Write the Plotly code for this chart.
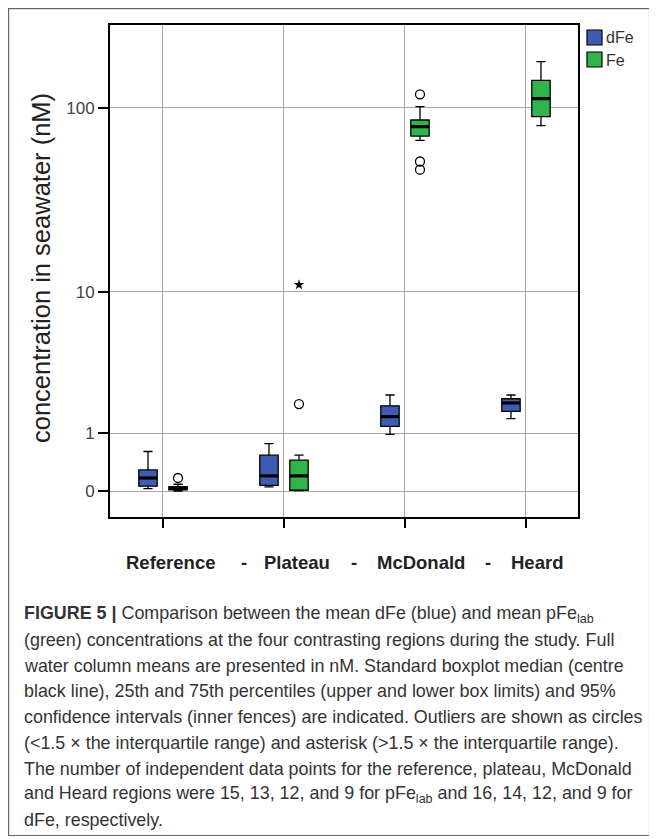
import math
import plotly.graph_objects as go

# ---------------- data (nM) ----------------
regions = ["Reference", "Plateau", "McDonald", "Heard"]

dfe_lowerfence = [0.03, 0.05, 0.98, 1.39]
dfe_q1 = [0.06, 0.07, 1.18, 1.61]
dfe_median = [0.17, 0.20, 1.45, 1.89]
dfe_q3 = [0.29, 0.54, 1.79, 2.04]
dfe_upperfence = [0.61, 0.77, 2.18, 2.18]

fe_lowerfence = [0.0, 0.005, 67.4, 80.6]
fe_q1 = [0.015, 0.009, 71.0, 89.9]
fe_median = [0.035, 0.20, 79.6, 112.0]
fe_q3 = [0.055, 0.45, 86.4, 140.0]
fe_upperfence = [0.085, 0.54, 101.6, 175.5]

# outliers of the Fe series: (region index, value)
fe_circle_region = [0, 1, 2, 2, 2]
fe_circle_value = [0.17, 1.85, 118.0, 52.0, 47.0]
fe_star_region = [1]
fe_star_value = [11.0]

tick_values = [0, 1, 10, 100]
tick_labels = ["0", "1", "10", "100"]

# ---------------- helpers ----------------
def tr(v):
    """axis transform used by the chart: log10(x + 1)"""
    return math.log10(v + 1.0)

def trl(vals):
    return [tr(v) for v in vals]

# page has an 8px body margin: work in page pixels, convert to figure pixels
PAGE_OFF = 8
W_FIG, H_FIG = 657 - PAGE_OFF, 839 - PAGE_OFF
PLOT_LEFT, PLOT_RIGHT, PLOT_TOP, PLOT_BOTTOM = 110, 578, 25, 517   # page pixels
L = PLOT_LEFT - PAGE_OFF
T = PLOT_TOP - PAGE_OFF
R = W_FIG - (PLOT_RIGHT - PAGE_OFF)
B = H_FIG - (PLOT_BOTTOM - PAGE_OFF)
PW, PH = PLOT_RIGHT - PLOT_LEFT, PLOT_BOTTOM - PLOT_TOP

def pxx(px):
    return (px - PLOT_LEFT) / PW

def pxy(py):
    return (PLOT_BOTTOM - py) / PH

OFF = 0.124
BW = 0.152
BLUE = "#3f5cb4"
GREEN = "#2fb54b"

dfe_pos = [i - OFF for i in range(len(regions))]
fe_pos = [i + OFF for i in range(len(regions))]

fig = go.Figure()

def add_boxes(pos, lf, q1, med, q3, uf, color, name):
    fig.add_trace(go.Box(
        x=pos, lowerfence=trl(lf), q1=trl(q1), median=trl(med), q3=trl(q3),
        upperfence=trl(uf), width=BW, whiskerwidth=0.5,
        fillcolor=color, line=dict(color="black", width=1.3),
        boxpoints=False, name=name, showlegend=False, hoverinfo="skip"))
    # thick median lines
    xs, ys = [], []
    for p, m in zip(pos, med):
        xs += [p - BW / 2, p + BW / 2, None]
        ys += [tr(m), tr(m), None]
    fig.add_trace(go.Scatter(x=xs, y=ys, mode="lines",
                             line=dict(color="black", width=3.2),
                             showlegend=False, hoverinfo="skip"))

add_boxes(dfe_pos, dfe_lowerfence, dfe_q1, dfe_median, dfe_q3, dfe_upperfence, BLUE, "dFe")
add_boxes(fe_pos, fe_lowerfence, fe_q1, fe_median, fe_q3, fe_upperfence, GREEN, "Fe")

fig.add_trace(go.Scatter(
    x=[fe_pos[i] for i in fe_circle_region], y=trl(fe_circle_value),
    mode="markers",
    marker=dict(symbol="circle-open", size=9, color="black", line=dict(width=1.3)),
    showlegend=False, hoverinfo="skip"))
fig.add_trace(go.Scatter(
    x=[fe_pos[i] for i in fe_star_region], y=trl(fe_star_value),
    mode="markers",
    marker=dict(symbol="star", size=8, color="black", line=dict(width=0)),
    showlegend=False, hoverinfo="skip"))

FONT = "Liberation Sans, Arial, sans-serif"

fig.update_layout(
    width=W_FIG, height=H_FIG,
    margin=dict(l=L, r=R, t=T, b=B, pad=0),
    paper_bgcolor="white", plot_bgcolor="white",
    boxmode="overlay", showlegend=False,
    font=dict(family=FONT, color="#333333"),
    xaxis=dict(
        range=[-0.438, 3.43], tickmode="array",
        tickvals=list(range(len(regions))), showticklabels=False,
        showgrid=True, gridcolor="#a6a6a6", gridwidth=1, zeroline=False,
        showline=True, mirror=True, linecolor="black", linewidth=1.8,
        ticks="outside", ticklen=9, tickwidth=1.8, tickcolor="black"),
    yaxis=dict(
        range=[-0.136, 2.4385], tickmode="array",
        tickvals=trl(tick_values), ticktext=tick_labels,
        tickfont=dict(size=17, color="#444444"),
        showgrid=True, gridcolor="#a6a6a6", gridwidth=1, zeroline=False,
        showline=True, mirror=True, linecolor="black", linewidth=1.8,
        ticks="outside", ticklen=10, tickwidth=1.8, tickcolor="black"),
)

shapes = []
annotations = []

# outer frame
shapes.append(dict(type="rect", xref="paper", yref="paper",
                   x0=pxx(8.6), x1=pxx(649.5), y0=pxy(835.5), y1=pxy(8.6),
                   line=dict(color="#666666", width=1.2), layer="below"))

# legend
for (name, color, y0) in [("dFe", BLUE, 30), ("Fe", GREEN, 52)]:
    shapes.append(dict(type="rect", xref="paper", yref="paper",
                       x0=pxx(587), x1=pxx(602), y0=pxy(y0 + 15), y1=pxy(y0),
                       fillcolor=color, line=dict(color="black", width=1.2)))
    annotations.append(dict(text=name, xref="paper", yref="paper",
                            x=pxx(604), y=pxy(y0 + 8), xanchor="left", yanchor="middle",
                            showarrow=False, font=dict(size=16, color="#333333", family=FONT)))

# y axis title
annotations.append(dict(text="concentration in seawater (nM)", xref="paper", yref="paper",
                        x=pxx(41), y=pxy(268), textangle=-90, showarrow=False,
                        xanchor="center", yanchor="middle",
                        font=dict(size=25.5, color="#222222", family=FONT)))

# category title line
cat_items = [("Reference", 170), ("-", 244), ("Plateau", 297), ("-", 354),
             ("McDonald", 421), ("-", 488), ("Heard", 537)]
for txt, cx in cat_items:
    annotations.append(dict(text="<b>%s</b>" % txt, xref="paper", yref="paper",
                            x=pxx(cx), y=pxy(562), xanchor="center", yanchor="middle",
                            showarrow=False, font=dict(size=18.5, color="#222222", family=FONT)))

caption = [
    "<b>FIGURE 5 |</b> Comparison between the mean dFe (blue) and mean pFe<sub>lab</sub>",
    "(green) concentrations at the four contrasting regions during the study. Full",
    "water column means are presented in nM. Standard boxplot median (centre",
    "black line), 25th and 75th percentiles (upper and lower box limits) and 95%",
    "confidence intervals (inner fences) are indicated. Outliers are shown as circles",
    "(&lt;1.5 × the interquartile range) and asterisk (&gt;1.5 × the interquartile range).",
    "The number of independent data points for the reference, plateau, McDonald",
    "and Heard regions were 15, 13, 12, and 9 for pFe<sub>lab</sub> and 16, 14, 12, and 9 for",
    "dFe, respectively.",
]
for i, line in enumerate(caption):
    annotations.append(dict(text=line, xref="paper", yref="paper",
                            x=pxx(22), y=pxy(614 + 25.8 * i), xanchor="left", yanchor="middle",
                            showarrow=False, align="left",
                            font=dict(size=17.9, color="#333333", family=FONT)))

fig.update_layout(shapes=shapes, annotations=annotations)

fig.write_html("out.html")
